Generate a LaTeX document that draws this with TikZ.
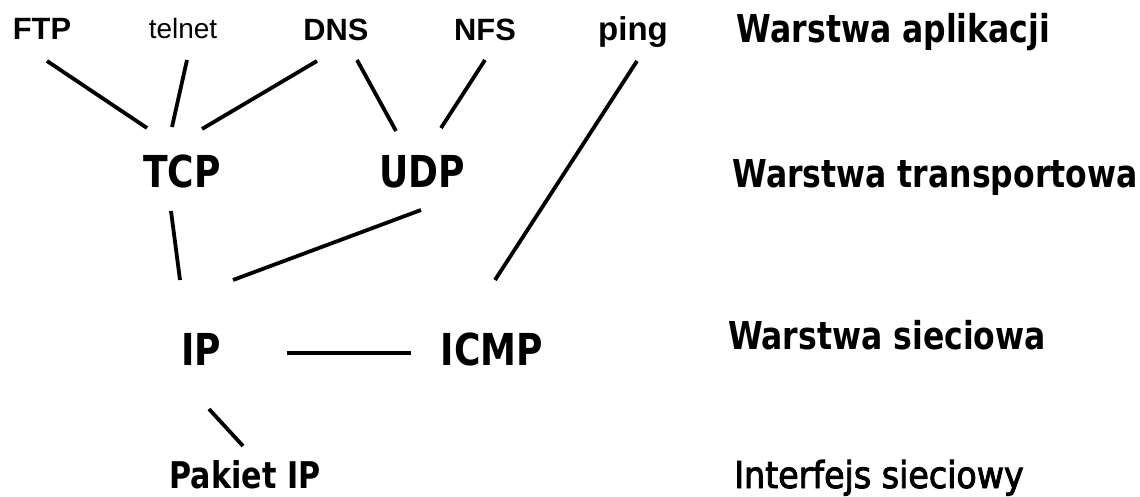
\documentclass[tikz,border=0pt]{standalone}
\usepackage{fontspec}
\setmainfont{Liberation Sans}
\newfontfamily\tahoma[FakeStretch=0.82]{DejaVu Sans}
\newfontfamily\tahomawide[FakeStretch=0.9, FakeBold=2.5]{DejaVu Sans}
\usetikzlibrary{calc}

\tikzset{
  app/.style={anchor=base, inner sep=0pt, font=\fontsize{15.4}{18}\selectfont\bfseries},
  proto/.style={anchor=base, inner sep=0pt, font=\tahoma\fontsize{22}{26}\selectfont\bfseries},
  layer/.style={anchor=base, inner sep=0pt, font=\tahoma\fontsize{19.2}{23}\selectfont\bfseries},
  link/.style={draw, line width=1.9pt}
}

\begin{document}
\begin{tikzpicture}[x=0.5pt, y=-0.5pt]
    \useasboundingbox (0,0) rectangle (1140,497);
    \node[app] (ftp) at (42,40) {FTP};
    \node[app, font=\fontsize{14}{16}\selectfont] (telnet) at (183,39) {telnet};
    \node[app] (dns) at (336,41) {DNS};
    \node[app] (nfs) at (485,41) {NFS};
    \node[app, font=\fontsize{16.5}{19}\selectfont\bfseries] (ping) at (633,41) {ping};
    \node[proto] (tcp) at (182,188) {TCP};
    \node[proto] (udp) at (422,188) {UDP};
    \node[proto] (ip) at (201.5,365) {IP};
    \node[proto] (icmp) at (492,365) {ICMP};
    \node[layer, font=\tahoma\fontsize{18.4}{22}\selectfont\bfseries] (pakiet) at (245,488) {Pakiet IP};
    \node[layer] (aplik) at (893.5,43) {Warstwa aplikacji};
    \node[layer] (transp) at (935,188) {Warstwa transportowa};
    \node[layer] (siec) at (887,350) {Warstwa sieciowa};
    \node[layer, font=\tahomawide\fontsize{18.5}{22}\selectfont] (interf) at (879,488) {Interfejs sieciowy};
    \path[link]
      ($(ftp.base)+(5,21)$) edge ($(tcp.base)+(-35,-60)$)
      ($(telnet.base)+(4,21)$) edge ($(tcp.base)+(-10,-61)$)
      ($(dns.base)+(-19,20)$) edge ($(tcp.base)+(20,-59)$)
      ($(dns.base)+(21,19)$) edge ($(udp.base)+(-26,-57)$)
      ($(nfs.base)+(0,19)$) edge ($(udp.base)+(19,-60)$)
      ($(ping.base)+(4,20)$) edge ($(icmp.base)+(3,-85)$)
      ($(tcp.base)+(-11,23)$) edge ($(ip.base)+(-21.5,-85)$)
      ($(udp.base)+(-1,22)$) edge ($(ip.base)+(31.5,-85)$)
      ($(ip.base)+(85.5,-12)$) edge ($(icmp.base)+(-81,-12)$)
      ($(ip.base)+(7.5,44)$) edge ($(pakiet.base)+(-2,-42)$);
\end{tikzpicture}
\end{document}
